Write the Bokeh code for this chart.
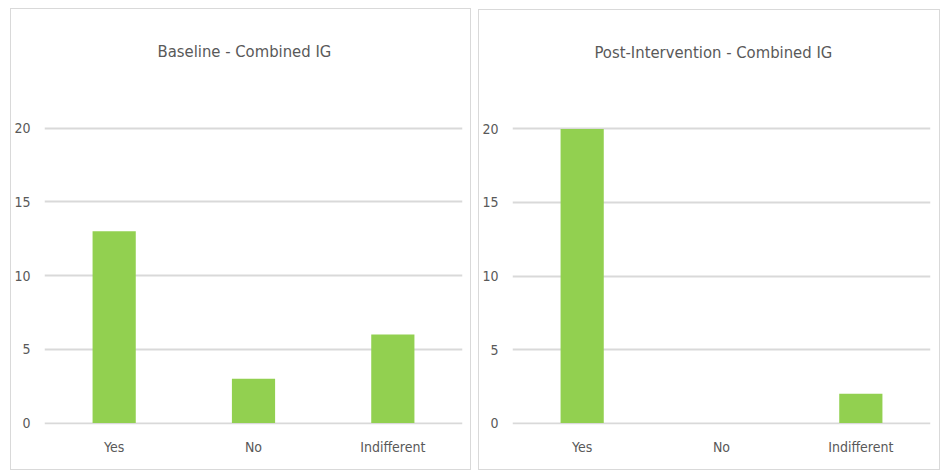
from bokeh.plotting import figure
from bokeh.layouts import row
from bokeh.models import Range1d, FixedTicker
from bokeh.embed import file_html
from bokeh.resources import INLINE

categories = ["Yes", "No", "Indifferent"]
baseline_counts = [13, 3, 6]
post_counts = [20, 0, 2]
y_ticks = [0, 5, 10, 15, 20]

BAR_COLOR = "#92D050"
GRID_COLOR = "#d9d9d9"
TEXT_COLOR = "#595959"
FONT = "DejaVu Sans Condensed, Liberation Sans Narrow, sans-serif"


def make_chart(title, counts, width, height, borders, margin, y_end, title_offset):
    p = figure(
        x_range=categories,
        y_range=Range1d(-0.1, y_end),
        width=width,
        height=height,
        title=title,
        output_backend="svg",
        toolbar_location=None,
        min_border_left=borders[0],
        min_border_right=borders[1],
        min_border_top=borders[2],
        min_border_bottom=borders[3],
        outline_line_color=None,
        margin=margin,
        styles={"border": "1px solid #d9d9d9", "box-sizing": "border-box"},
    )
    p.vbar(x=categories, top=counts, width=0.31, color=BAR_COLOR, line_color=None)

    p.title.align = "left"
    p.title.offset = title_offset
    p.title.text_font = FONT
    p.title.text_font_size = "16.5px"
    p.title.text_font_style = "normal"
    p.title.text_color = TEXT_COLOR
    p.title.standoff = 10

    p.yaxis.ticker = FixedTicker(ticks=y_ticks)
    p.ygrid.ticker = FixedTicker(ticks=y_ticks)
    p.xgrid.grid_line_color = None
    p.ygrid.grid_line_color = GRID_COLOR
    p.ygrid.grid_line_width = 2

    for ax in (p.xaxis, p.yaxis):
        ax.axis_line_color = None
        ax.major_tick_line_color = None
        ax.minor_tick_line_color = None
        ax.major_label_text_font = FONT
        ax.major_label_text_font_size = "14px"
        ax.major_label_text_color = TEXT_COLOR
    p.yaxis.major_label_standoff = 8
    p.xaxis.major_label_standoff = 8
    p.x_range.range_padding = 0
    return p


left = make_chart("Baseline - Combined IG", baseline_counts, 461, 462,
                  (27, 10, 52, 47), (8, 0, 0, 10), 24.25, 113)
right = make_chart("Post-Intervention - Combined IG", post_counts, 462, 461,
                   (31, 11, 56, 47), (9, 0, 0, 7), 24.25, 82)

layout = row(left, right, spacing=0)
layout.margin = 0

open("out.html", "w").write(file_html(layout, INLINE))
